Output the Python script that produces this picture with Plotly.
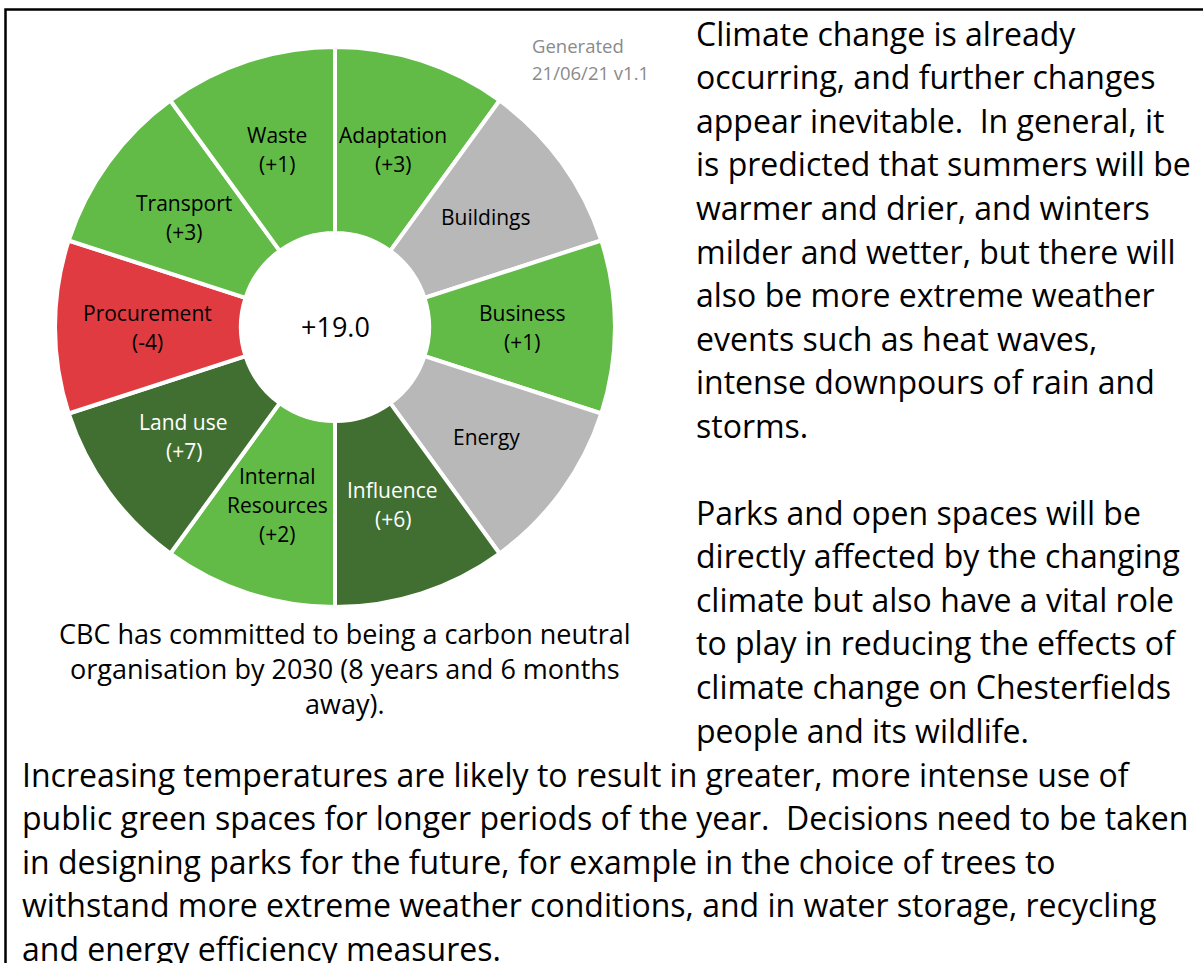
import math
import plotly.graph_objects as go

W, H = 1203, 963

# ---- data ----
categories = ["Adaptation", "Buildings", "Business", "Energy", "Influence",
              "Internal<br>Resources", "Land use", "Procurement", "Transport", "Waste"]
scores = [3, None, 1, None, 6, 2, 7, -4, 3, 1]
slice_weights = [1, 1, 1, 1, 1, 1, 1, 1, 1, 1]
slice_colors = ["#62bb46", "#b8b8b8", "#62bb46", "#b8b8b8", "#416f32",
                "#62bb46", "#416f32", "#e03b41", "#62bb46", "#62bb46"]
label_colors = ["black", "black", "black", "black", "white",
                "black", "white", "black", "black", "black"]

generated_lines = ["Generated", "21/06/21 v1.1"]
caption_lines = ["CBC has committed to being a carbon neutral",
                 "organisation by 2030 (8 years and 6 months",
                 "away)."]
right_para1 = ["Climate change is already",
               "occurring, and further changes",
               "appear inevitable.  In general, it",
               "is predicted that summers will be",
               "warmer and drier, and winters",
               "milder and wetter, but there will",
               "also be more extreme weather",
               "events such as heat waves,",
               "intense downpours of rain and",
               "storms."]
right_para2 = ["Parks and open spaces will be",
               "directly affected by the changing",
               "climate but also have a vital role",
               "to play in reducing the effects of",
               "climate change on Chesterfields",
               "people and its wildlife."]
bottom_para = ["Increasing temperatures are likely to result in greater, more intense use of",
               "public green spaces for longer periods of the year.  Decisions need to be taken",
               "in designing parks for the future, for example in the choice of trees to",
               "withstand more extreme weather conditions, and in water storage, recycling",
               "and energy efficiency measures."]

FONT = "Open Sans"

# pie geometry (pixels)
CX, CY, R_OUT, HOLE = 335, 327, 280, 0.336

fig = go.Figure()
fig.add_trace(go.Pie(
    labels=categories,
    values=slice_weights,
    sort=False,
    direction="clockwise",
    rotation=0,
    hole=HOLE,
    marker=dict(colors=slice_colors, line=dict(color="white", width=4)),
    textinfo="none",
    hoverinfo="skip",
    showlegend=False,
    domain=dict(x=[(CX - R_OUT) / W, (CX + R_OUT) / W],
                y=[1 - (CY + R_OUT) / H, 1 - (CY - R_OUT) / H]),
))

annotations = []


def add_text(s, x, y, size, color="black", xanchor="center"):
    annotations.append(dict(
        text=s, x=x / W, y=1 - y / H, xref="paper", yref="paper",
        xanchor=xanchor, yanchor="middle", showarrow=False,
        font=dict(family=FONT, size=size, color=color), align="center"))


# slice labels at mid-ring radius, mid-angle of each slice
total = sum(slice_weights)
r_mid = R_OUT * (1 + HOLE) / 2
LABEL_LH = 29
cum = 0
for cat, sc, col, w in zip(categories, scores, label_colors, slice_weights):
    ang = 2 * math.pi * (cum + w / 2) / total
    cum += w
    lx = CX + r_mid * math.sin(ang)
    ly = CY - r_mid * math.cos(ang)
    lines = cat.split("<br>") + ([] if sc is None else [f"({sc:+d})"])
    y0 = ly - LABEL_LH * (len(lines) - 1) / 2
    for k, ln in enumerate(lines):
        add_text(ln, lx, y0 + LABEL_LH * k, 21, col)

# centre total
total_score = sum(s for s in scores if s is not None)
add_text(f"{total_score:+.1f}", CX, CY, 27)

# generated stamp
for i, s in enumerate(generated_lines):
    add_text(s, 530, 46 + 27 * i, 18.5, "#8a8a8a", xanchor="left")

# caption below the pie
for i, s in enumerate(caption_lines):
    add_text(s, 345, 633 + 35 * i, 27)

# right column text
LH = 43.6
for i, s in enumerate(right_para1):
    add_text(s, 694, 33 + LH * i, 32, xanchor="left")
for i, s in enumerate(right_para2):
    add_text(s, 694, 512 + LH * i, 32, xanchor="left")

# bottom paragraph
for i, s in enumerate(bottom_para):
    add_text(s, 20, 774 + LH * i, 32, xanchor="left")

fig.update_layout(
    width=W, height=H,
    margin=dict(l=0, r=0, t=0, b=0),
    paper_bgcolor="white", plot_bgcolor="white",
    annotations=annotations,
    shapes=[dict(type="rect", xref="paper", yref="paper",
                 x0=5.5 / W, x1=1.02, y0=-0.02, y1=1 - 9.5 / H,
                 line=dict(color="black", width=2.5), fillcolor="rgba(0,0,0,0)")],
)

fig.write_html("out.html", config={"displayModeBar": False},
               post_script="document.body.style.margin='0';")
